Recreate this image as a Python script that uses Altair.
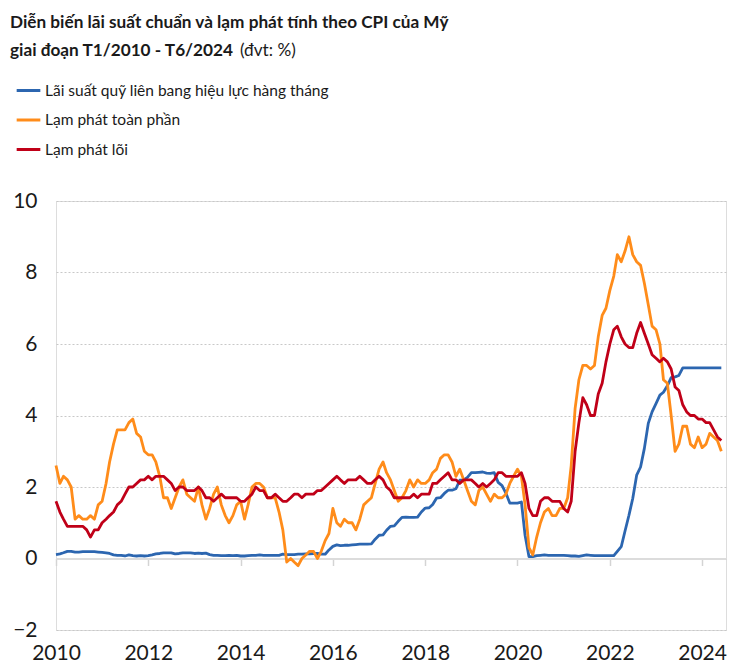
import altair as alt
import pandas as pd

# ---- data (monthly, Jan 2010 - Jun 2024) ----
fed_funds = [
    0.11, 0.13, 0.16, 0.20, 0.20, 0.18, 0.18, 0.19, 0.19, 0.19, 0.19, 0.18,
    0.17, 0.16, 0.14, 0.10, 0.09, 0.09, 0.07, 0.10, 0.08, 0.07, 0.08, 0.07,
    0.08, 0.10, 0.13, 0.14, 0.16, 0.16, 0.16, 0.13, 0.14, 0.16, 0.16, 0.16,
    0.14, 0.15, 0.14, 0.15, 0.11, 0.09, 0.09, 0.08, 0.08, 0.09, 0.08, 0.09,
    0.07, 0.07, 0.08, 0.09, 0.09, 0.10, 0.09, 0.09, 0.09, 0.09, 0.09, 0.12,
    0.11, 0.11, 0.11, 0.12, 0.12, 0.13, 0.13, 0.14, 0.14, 0.12, 0.12, 0.24,
    0.34, 0.38, 0.36, 0.37, 0.37, 0.38, 0.39, 0.40, 0.40, 0.40, 0.41, 0.54,
    0.65, 0.66, 0.79, 0.90, 0.91, 1.04, 1.15, 1.16, 1.15, 1.15, 1.16, 1.30,
    1.41, 1.42, 1.51, 1.69, 1.70, 1.82, 1.91, 1.91, 1.95, 2.19, 2.20, 2.27,
    2.40, 2.40, 2.41, 2.42, 2.39, 2.38, 2.40, 2.13, 2.04, 1.83, 1.55, 1.55,
    1.55, 1.58, 0.65, 0.05, 0.05, 0.08, 0.09, 0.10, 0.09, 0.09, 0.09, 0.09,
    0.09, 0.08, 0.07, 0.07, 0.06, 0.08, 0.10, 0.09, 0.08, 0.08, 0.08, 0.08,
    0.08, 0.08, 0.20, 0.33, 0.77, 1.21, 1.68, 2.33, 2.56, 3.08, 3.78, 4.10,
    4.33, 4.57, 4.65, 4.83, 5.06, 5.08, 5.12, 5.33, 5.33, 5.33, 5.33, 5.33,
    5.33, 5.33, 5.33, 5.33, 5.33, 5.33,
]

headline_cpi = [
    2.6, 2.1, 2.3, 2.2, 2.0, 1.1, 1.2, 1.1, 1.1, 1.2, 1.1, 1.5,
    1.6, 2.1, 2.7, 3.2, 3.6, 3.6, 3.6, 3.8, 3.9, 3.5, 3.4, 3.0,
    2.9, 2.9, 2.7, 2.3, 1.7, 1.7, 1.4, 1.7, 2.0, 2.2, 1.8, 1.7,
    1.6, 2.0, 1.5, 1.1, 1.4, 1.8, 2.0, 1.5, 1.2, 1.0, 1.2, 1.5,
    1.6, 1.1, 1.5, 2.0, 2.1, 2.1, 2.0, 1.7, 1.7, 1.7, 1.3, 0.8,
    -0.1, 0.0, -0.1, -0.2, 0.0, 0.1, 0.2, 0.2, 0.0, 0.2, 0.5, 0.7,
    1.4, 1.0, 0.9, 1.1, 1.0, 1.0, 0.8, 1.1, 1.5, 1.6, 1.7, 2.1,
    2.5, 2.7, 2.4, 2.2, 1.9, 1.6, 1.7, 1.9, 2.2, 2.0, 2.2, 2.1,
    2.1, 2.2, 2.4, 2.5, 2.8, 2.9, 2.9, 2.7, 2.3, 2.5, 2.2, 1.9,
    1.6, 1.5, 1.9, 2.0, 1.8, 1.6, 1.8, 1.7, 1.7, 1.8, 2.1, 2.3,
    2.5, 2.3, 1.5, 0.3, 0.1, 0.6, 1.0, 1.3, 1.4, 1.2, 1.2, 1.4,
    1.4, 1.7, 2.6, 4.2, 5.0, 5.4, 5.4, 5.3, 5.4, 6.2, 6.8, 7.0,
    7.5, 7.9, 8.5, 8.3, 8.6, 9.0, 8.5, 8.3, 8.2, 7.7, 7.1, 6.5,
    6.4, 6.0, 5.0, 4.9, 4.0, 3.0, 3.2, 3.7, 3.7, 3.2, 3.1, 3.4,
    3.1, 3.2, 3.5, 3.4, 3.3, 3.0,
]

core_cpi = [
    1.6, 1.3, 1.1, 0.9, 0.9, 0.9, 0.9, 0.9, 0.8, 0.6, 0.8, 0.8,
    1.0, 1.1, 1.2, 1.3, 1.5, 1.6, 1.8, 2.0, 2.0, 2.1, 2.2, 2.2,
    2.3, 2.2, 2.3, 2.3, 2.3, 2.2, 2.1, 1.9, 2.0, 2.0, 1.9, 1.9,
    1.9, 2.0, 1.9, 1.7, 1.7, 1.6, 1.7, 1.8, 1.7, 1.7, 1.7, 1.7,
    1.6, 1.6, 1.7, 1.8, 2.0, 1.9, 1.9, 1.7, 1.7, 1.8, 1.7, 1.6,
    1.6, 1.7, 1.8, 1.8, 1.7, 1.8, 1.8, 1.8, 1.9, 1.9, 2.0, 2.1,
    2.2, 2.3, 2.2, 2.1, 2.2, 2.2, 2.2, 2.3, 2.2, 2.1, 2.1, 2.2,
    2.3, 2.2, 2.0, 1.9, 1.7, 1.7, 1.7, 1.7, 1.7, 1.8, 1.7, 1.8,
    1.8, 1.8, 2.1, 2.1, 2.2, 2.3, 2.4, 2.2, 2.2, 2.1, 2.2, 2.2,
    2.2, 2.1, 2.0, 2.1, 2.0, 2.1, 2.2, 2.4, 2.4, 2.3, 2.3, 2.3,
    2.3, 2.4, 2.1, 1.4, 1.2, 1.2, 1.6, 1.7, 1.7, 1.6, 1.6, 1.6,
    1.4, 1.3, 1.6, 3.0, 3.8, 4.5, 4.3, 4.0, 4.0, 4.6, 4.9, 5.5,
    6.0, 6.4, 6.5, 6.2, 6.0, 5.9, 5.9, 6.3, 6.6, 6.3, 6.0, 5.7,
    5.6, 5.5, 5.6, 5.5, 5.3, 4.8, 4.7, 4.3, 4.1, 4.0, 4.0, 3.9,
    3.9, 3.8, 3.8, 3.6, 3.4, 3.3,
]

series_names = [
    "Lãi suất quỹ liên bang hiệu lực hàng tháng",
    "Lạm phát toàn phần",
    "Lạm phát lõi",
]
series_colors = ["#2c66b0", "#ff8c1a", "#c00018"]
year_ticks = [2010, 2012, 2014, 2016, 2018, 2020, 2022, 2024]
y_ticks = [-2, 0, 2, 4, 6, 8, 10]

title_line1 = "Diễn biến lãi suất chuẩn và lạm phát tính theo CPI của Mỹ"
title_line2 = "giai đoạn T1/2010 - T6/2024"
title_unit = "(đvt: %)"

# ---- build table ----
dates = pd.date_range("2010-01-01", periods=len(fed_funds), freq="MS")
frames = []
for name, vals in zip(series_names, [fed_funds, headline_cpi, core_cpi]):
    frames.append(pd.DataFrame({"date": dates, "series": name, "value": vals}))
df = pd.concat(frames, ignore_index=True)

FONT = "Lato"

x_scale = alt.Scale(domain=[alt.DateTime(year=2010, month=1, date=1),
                            alt.DateTime(year=2024, month=7, date=8)])
y_scale = alt.Scale(domain=[-2, 10], nice=False)

lines = alt.Chart(df).mark_line(strokeWidth=2.8, strokeJoin="round").encode(
    x=alt.X("date:T", scale=x_scale,
            axis=alt.Axis(
                values=[alt.DateTime(year=y, month=1, date=1) for y in year_ticks],
                format="%Y", title=None, grid=False,
                offset=-71.5, domain=True, domainColor="#dcdcdc", domainWidth=2,
                ticks=True, tickSize=7, tickColor="#d4d4d4", tickWidth=1.5,
                labelPadding=77, labelFontSize=21, labelFont=FONT,
                labelColor="#1a1a1a", labelFlush=False)),
    y=alt.Y("value:Q", scale=y_scale,
            axis=alt.Axis(values=y_ticks, title=None, domain=False, ticks=False,
                          grid=True, gridColor="#c8c8c8", gridDash=[2, 2],
                          gridWidth=1, labelPadding=19, labelFontSize=21,
                          labelFont=FONT, labelColor="#1a1a1a")),
    color=alt.Color("series:N",
                    scale=alt.Scale(domain=series_names, range=series_colors),
                    sort=series_names,
                    legend=alt.Legend(title=None, orient="none",
                                      legendX=-41, legendY=-124,
                                      symbolType="stroke", symbolSize=560,
                                      symbolStrokeWidth=3, labelFontSize=15.5,
                                      labelFont=FONT, labelColor="#1a1a1a",
                                      labelOffset=3, rowPadding=7.5, padding=0,
                                      labelLimit=600)),
)

title_df = pd.DataFrame({
    "text": [title_line1, title_line2, title_unit],
    "row": [0, 1, 2],
})

t1 = alt.Chart(title_df).transform_filter(alt.datum.row == 0).mark_text(
    font=FONT, fontSize=17.2, fontWeight="bold", align="left",
    baseline="alphabetic", color="#1a1a1a"
).encode(text="text:N", x=alt.value(-46), y=alt.value(-173))

t2 = alt.Chart(title_df).transform_filter(alt.datum.row == 1).mark_text(
    font=FONT, fontSize=17.2, fontWeight="bold", align="left",
    baseline="alphabetic", color="#1a1a1a"
).encode(text="text:N", x=alt.value(-46), y=alt.value(-145))

t3 = alt.Chart(title_df).transform_filter(alt.datum.row == 2).mark_text(
    font=FONT, fontSize=17.2, fontWeight="normal", align="left",
    baseline="alphabetic", color="#1a1a1a"
).encode(text="text:N", x=alt.value(184), y=alt.value(-145))

chart = alt.layer(lines, t1, t2, t3).properties(
    width=670, height=429,
    autosize=alt.AutoSizeParams(type="none"),
    padding={"left": 48, "top": 193, "right": 20, "bottom": 40},
).configure_view(stroke=None).configure(background="white")

chart.save("out.html", embed_options={"renderer": "svg", "actions": False})
